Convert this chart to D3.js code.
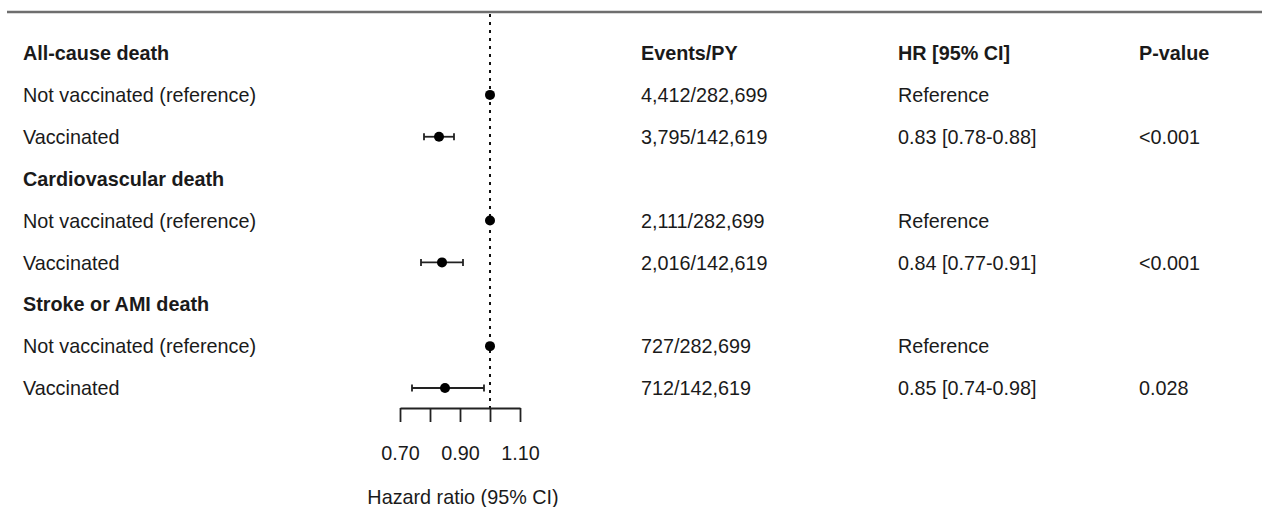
<!DOCTYPE html>
<html>
<head>
<meta charset="utf-8">
<script src="https://cdn.jsdelivr.net/npm/d3@7"></script>
<style>
  html, body { margin: 0; padding: 0; background: #fff; }
  svg { display: block; }
  text { font-family: "Liberation Sans", Arial, Helvetica, sans-serif; fill: #1a1a1a; }
</style>
</head>
<body>
<svg id="chart" width="1262" height="507"></svg>
<script>
// ---- data ----
const rowLabels = [
  "All-cause death",
  "Not vaccinated (reference)",
  "Vaccinated",
  "Cardiovascular death",
  "Not vaccinated (reference)",
  "Vaccinated",
  "Stroke or AMI death",
  "Not vaccinated (reference)",
  "Vaccinated"
];
const rowIsHeader = [true, false, false, true, false, false, true, false, false];
const hr      = [null, 1.00, 0.83, null, 1.00, 0.84, null, 1.00, 0.85];
const ciLow   = [null, null, 0.78, null, null, 0.77, null, null, 0.74];
const ciHigh  = [null, null, 0.88, null, null, 0.91, null, null, 0.98];
const eventsPY = ["Events/PY", "4,412/282,699", "3,795/142,619", "", "2,111/282,699", "2,016/142,619", "", "727/282,699", "712/142,619"];
const hrText   = ["HR [95% CI]", "Reference", "0.83 [0.78-0.88]", "", "Reference", "0.84 [0.77-0.91]", "", "Reference", "0.85 [0.74-0.98]"];
const pValues  = ["P-value", "", "<0.001", "", "", "<0.001", "", "", "0.028"];
const tickValues = [0.70, 0.80, 0.90, 1.00, 1.10];
const tickLabels = ["0.70", "", "0.90", "", "1.10"];
const axisTitle = "Hazard ratio (95% CI)";
const nullValue = 1.00;

// ---- layout ----
const svg = d3.select("#chart");
const fontSize = 19.8;
const x = d3.scaleLinear().domain([0.70, 1.10]).range([400, 520]);
const y = d3.scaleLinear().domain([0, rowLabels.length - 1]).range([53, 388]);
const axisY = 408;
const colX = { label: 23, events: 641, hr: 898, p: 1139 };

// top rule
svg.append("line")
  .attr("x1", 7).attr("x2", 1262).attr("y1", 12).attr("y2", 12)
  .attr("stroke", "#6e6e6e").attr("stroke-width", 2.6);

// reference (null) line
svg.append("line")
  .attr("x1", x(nullValue)).attr("x2", x(nullValue))
  .attr("y1", 14).attr("y2", axisY)
  .attr("stroke", "#111").attr("stroke-width", 2)
  .attr("stroke-dasharray", "3,5");

// text columns
function textCol(values, xpos, boldAll) {
  svg.append("g").selectAll("text").data(values).join("text")
    .attr("x", xpos)
    .attr("y", (d, i) => y(i))
    .attr("dy", "0.36em")
    .attr("font-size", fontSize)
    .attr("font-weight", (d, i) => (i === 0 || (boldAll && rowIsHeader[i])) ? "bold" : "normal")
    .text(d => d);
}
textCol(rowLabels, colX.label, true);
textCol(eventsPY, colX.events, false);
textCol(hrText, colX.hr, false);
textCol(pValues, colX.p, false);

// CI bars
const idx = d3.range(rowLabels.length);
const ciRows = idx.filter(i => ciLow[i] != null);
const ciG = svg.append("g").attr("stroke", "#222").attr("stroke-width", 1.8);
ciG.selectAll("line.ci").data(ciRows).join("line")
  .attr("class", "ci")
  .attr("x1", i => x(ciLow[i])).attr("x2", i => x(ciHigh[i]))
  .attr("y1", i => y(i)).attr("y2", i => y(i));
ciG.selectAll("line.capL").data(ciRows).join("line")
  .attr("class", "capL")
  .attr("x1", i => x(ciLow[i])).attr("x2", i => x(ciLow[i]))
  .attr("y1", i => y(i) - 3.5).attr("y2", i => y(i) + 3.5);
ciG.selectAll("line.capH").data(ciRows).join("line")
  .attr("class", "capH")
  .attr("x1", i => x(ciHigh[i])).attr("x2", i => x(ciHigh[i]))
  .attr("y1", i => y(i) - 3.5).attr("y2", i => y(i) + 3.5);

// points
const ptRows = idx.filter(i => hr[i] != null);
svg.append("g").selectAll("circle").data(ptRows).join("circle")
  .attr("cx", i => x(hr[i])).attr("cy", i => y(i)).attr("r", 5)
  .attr("fill", "#000");

// axis
const axis = d3.axisBottom(x)
  .tickValues(tickValues)
  .tickSize(14)
  .tickSizeOuter(0)
  .tickPadding(24)
  .tickFormat((d, i) => tickLabels[i]);
const axG = svg.append("g").attr("transform", `translate(0,${axisY})`).call(axis);
axG.select(".domain").attr("stroke", "#222").attr("stroke-width", 1.8);
axG.selectAll(".tick line").attr("stroke", "#222").attr("stroke-width", 1.8);
axG.selectAll(".tick text")
  .attr("font-size", fontSize)
  .attr("font-family", "Liberation Sans, Arial, sans-serif")
  .attr("fill", "#1a1a1a");

svg.append("text")
  .attr("x", x(0.90) + 3).attr("y", 497).attr("dy", "0.36em")
  .attr("text-anchor", "middle")
  .attr("font-size", fontSize)
  .text(axisTitle);
</script>
</body>
</html>
